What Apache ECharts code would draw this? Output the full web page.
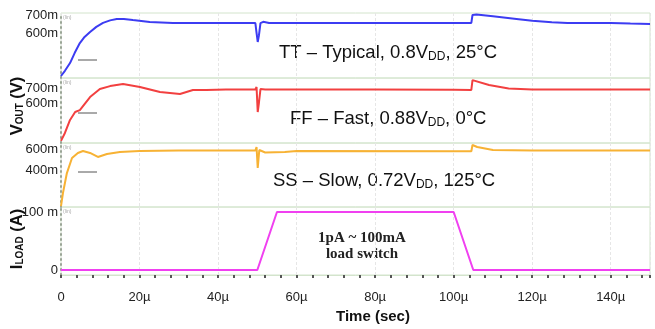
<!DOCTYPE html>
<html>
<head>
<meta charset="utf-8">
<title>Vout / Iload</title>
<script src="https://cdn.jsdelivr.net/npm/echarts@6/dist/echarts.min.js"></script>
<style>
  html, body { margin: 0; padding: 0; background: #fff; }
  #myChart { width: 655px; height: 329px; }
</style>
</head>
<body>
<div id="myChart"></div>
<script>
// time axis in µs, voltages in mV, current in mA
var ttTime = [0, 1, 2.3, 3.5, 4.8, 6, 7.4, 9, 10.7, 12.5, 14.2, 16, 18.3, 22.6, 28.5, 35, 42, 49.5, 49.8, 50.1, 50.4, 50.8, 51.5, 53, 60, 70, 80, 90, 100, 104.5, 104.8, 105.8, 110, 116, 120, 125, 129, 135, 140, 145, 150];
var ttVout = [361, 390, 433, 490, 544, 578, 606, 634, 656, 670, 678, 678, 672, 661, 656, 656, 655, 655, 600, 550, 585, 655, 662, 656, 655, 655, 655, 655, 655, 656, 700, 703, 693, 678, 668, 660, 655, 655, 656, 652, 650];

var ffTime = [0, 1, 2.3, 3.6, 4.8, 7.4, 9.9, 12.5, 15.8, 20.1, 25.2, 30.3, 33.6, 37, 42, 49.5, 49.8, 50.1, 50.4, 50.8, 52, 60, 80, 100, 104.5, 104.8, 109, 114, 120, 135, 150];
var ffVout = [347, 400, 487, 540, 553, 640, 693, 713, 727, 707, 673, 660, 687, 687, 690, 690, 707, 540, 600, 693, 691, 691, 691, 688, 687, 753, 720, 697, 691, 691, 691];

var ssTime = [0, 0.5, 1.5, 2.8, 4.3, 5.6, 7.4, 9.4, 11.7, 15, 20, 30, 49.5, 49.8, 50.1, 50.5, 52, 57, 60, 100, 104.5, 104.8, 106, 110, 120, 150];
var ssVout = [57, 181, 371, 514, 562, 581, 562, 524, 552, 571, 581, 586, 586, 619, 419, 590, 567, 571, 581, 578, 578, 638, 619, 590, 586, 586];

var loadTime = [0, 50, 55, 100, 105, 150];
var loadCurrent = [0, 0, 100, 100, 0, 0];

var panelLabels = [
  [600, 700],
  [600, 700],
  [400, 600],
  [0, 100]
];
var annotations = [
  'TT \u2013 Typical, 0.8V{s|DD}, 25\u00b0C',
  'FF \u2013 Fast, 0.88V{s|DD}, 0\u00b0C',
  'SS \u2013 Slow, 0.72V{s|DD}, 125\u00b0C'
];

function pairs(xs, ys) {
  return xs.map(function (x, i) { return [x, ys[i]]; });
}

function drawChart() {
  var myChart = echarts.init(document.getElementById('myChart'));
  var font = '"Liberation Sans", Arial, sans-serif';
  var panels = [
    { top: 13, height: 65, min: 350, max: 711, dashY: 60 },
    { top: 78, height: 65, min: 333, max: 767, dashY: 113 },
    { top: 143, height: 64, min: 48, max: 657, dashY: 172 },
    { top: 207, height: 68, min: -8.6, max: 108.6 }
  ];
  var grids = [], xAxes = [], yAxes = [];
  panels.forEach(function (p, i) {
    var last = i === panels.length - 1;
    grids.push({
      left: 61, right: 5, top: p.top, height: p.height,
      show: true, borderColor: '#d3e4cc', borderWidth: 1
    });
    xAxes.push({
      gridIndex: i, type: 'value', min: 0, max: 150, interval: 20, position: 'bottom',
      axisLine: { show: last, onZero: false, lineStyle: { color: '#d3e4cc', width: 1 } },
      axisTick: { show: last, length: 3, lineStyle: { color: '#555', width: 2 } },
      minorTick: { show: last, splitNumber: 5, length: 3, lineStyle: { color: '#555', width: 2 } },
      axisLabel: {
        show: last, margin: 16, fontFamily: font, fontSize: 13, color: '#222',
        showMaxLabel: false,
        formatter: function (v) { return v === 0 ? '0' : v + '\u00b5'; }
      },
      splitLine: { show: true, lineStyle: { color: '#e6e6e6', type: [3, 2] } }
    });
    yAxes.push({
      gridIndex: i, type: 'value', min: p.min, max: p.max,
      axisLine: { show: true, lineStyle: { color: '#9aa596', width: 2, type: [1, 4] } },
      axisTick: { show: false },
      axisLabel: {
        customValues: panelLabels[i], margin: 3, fontFamily: font, fontSize: 13, color: '#222',
        formatter: function (v) {
          if (last) return v === 0 ? '0' : '100 m';
          return v + 'm';
        }
      },
      splitLine: { show: false }
    });
  });

  var graphics = [];
  var annTop = [43, 109, 171];
  var annX = [279, 290, 273];
  annotations.forEach(function (t, i) {
    graphics.push({
      type: 'text', left: annX[i], top: annTop[i],
      style: {
        text: t, fill: '#111', font: '18.5px ' + font,
        rich: { s: { fontSize: 12, fontFamily: font, fill: '#111', padding: [8, 0, 0, 0] } }
      }
    });
  });
  // small (lin) tags and stray dashes inside each panel
  panels.forEach(function (p) {
    graphics.push({
      type: 'text', left: 63, top: p.top + 2,
      style: { text: '(lin)', fill: '#aaa', font: '5px ' + font }
    });
    if (p.dashY) {
      graphics.push({
        type: 'line', shape: { x1: 78, y1: p.dashY, x2: 97, y2: p.dashY },
        style: { stroke: '#555', lineWidth: 1 }
      });
    }
  });
  graphics.push({
    type: 'text', x: 362, y: 230,
    style: {
      text: '1pA ~ 100mA\nload switch', fill: '#222', align: 'center',
      font: 'bold 15px "Liberation Serif", "Times New Roman", serif', lineHeight: 16
    }
  });
  graphics.push({
    type: 'text', x: 17, y: 106, rotation: Math.PI / 2,
    style: {
      text: '{v|V}{s|OUT}{v| (V)}', align: 'center', verticalAlign: 'middle',
      rich: {
        v: { font: 'bold 16.5px ' + font, fill: '#111' },
        s: { font: 'bold 10px ' + font, fill: '#111', padding: [7, 0, 0, 0] }
      }
    }
  });
  graphics.push({
    type: 'text', x: 17, y: 239, rotation: Math.PI / 2,
    style: {
      text: '{v|I}{s|LOAD}{v| (A)}', align: 'center', verticalAlign: 'middle',
      rich: {
        v: { font: 'bold 16.5px ' + font, fill: '#111' },
        s: { font: 'bold 10px ' + font, fill: '#111', padding: [7, 0, 0, 0] }
      }
    }
  });
  graphics.push({
    type: 'text', left: 336, top: 309,
    style: { text: 'Time (sec)', fill: '#111', font: 'bold 15px ' + font }
  });

  function line(name, xi, data, color) {
    return {
      name: name, type: 'line', xAxisIndex: xi, yAxisIndex: xi,
      data: data, showSymbol: false, animation: false, silent: true,
      lineStyle: { color: color, width: 2 }
    };
  }

  myChart.setOption({
    animation: false,
    grid: grids,
    xAxis: xAxes,
    yAxis: yAxes,
    graphic: graphics,
    series: [
      line('TT', 0, pairs(ttTime, ttVout), '#3c3cf2'),
      line('FF', 1, pairs(ffTime, ffVout), '#f24040'),
      line('SS', 2, pairs(ssTime, ssVout), '#f7b234'),
      line('ILOAD', 3, pairs(loadTime, loadCurrent), '#f040f0')
    ]
  });
  window.addEventListener('resize', function () { myChart.resize(); });
}

drawChart();
</script>
</body>
</html>
